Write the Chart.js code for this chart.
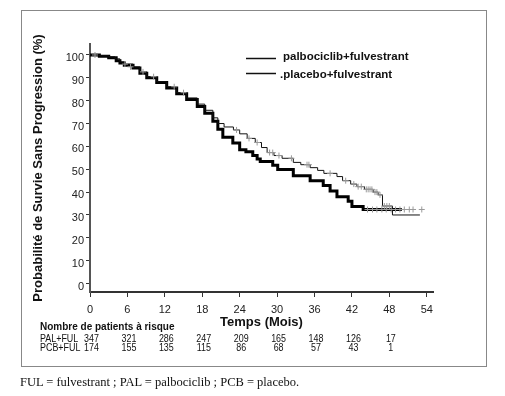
<!DOCTYPE html>
<html><head><meta charset="utf-8">
<script src="https://cdn.jsdelivr.net/npm/chart.js@4.4.1/dist/chart.umd.min.js"></script>
<style>
html,body{margin:0;padding:0;background:#fff;}
#wrap{position:relative;width:505px;height:396px;overflow:hidden;background:#fff;}
#frame{position:absolute;left:21px;top:10px;width:464px;height:355px;border:1px solid #888;}
canvas{position:absolute;left:0;top:0;}
#cap{position:absolute;left:20px;top:375px;font:12.5px "Liberation Serif","Times New Roman",serif;color:#111;white-space:nowrap;}
</style></head><body>
<div id="wrap"><div id="frame"></div><canvas id="c" width="505" height="396"></canvas><div id="cap">FUL = fulvestrant ; PAL = palbociclib ; PCB = placebo.</div></div>
<script>
const xTicks = [0, 6, 12, 18, 24, 30, 36, 42, 48, 54];
const yTicks = [0, 10, 20, 30, 40, 50, 60, 70, 80, 90, 100];
const seriesLabels = ['palbociclib+fulvestrant', '.placebo+fulvestrant'];

// Kaplan-Meier steps, PAL+FUL (thin line)
const palTimes = [0, 1.5, 3.0, 4.0, 4.8, 5.5, 6.9, 8.0, 9.1, 10.7, 12.3, 13.9, 15.5, 17.2, 18.4, 19.7, 20.5, 21.5, 23.0, 24.0, 25.2, 26.5, 27.5, 28.4, 29.5, 30.8, 32.6, 33.8, 35.3, 36.5, 37.5, 39.6, 40.5, 41.8, 42.8, 44.0, 45.4, 46.2, 46.9, 48.5, 52.9];
const palSurv  = [100, 99.6, 99.2, 98.3, 97, 96, 94.8, 92.6, 90.5, 88.3, 86.1, 83.5, 81.2, 78.5, 75.8, 72.5, 70, 68.5, 67.2, 65.5, 63.5, 61.7, 59.5, 57.3, 56, 54.8, 53, 52, 50.7, 49.5, 48.2, 46.8, 45, 43.5, 42.4, 41.2, 40, 38.8, 33.9, 30.0, 30.0];

// Kaplan-Meier steps, PCB+FUL (thick line)
const pcbTimes = [0, 1.5, 3.0, 4.2, 4.8, 5.5, 6.9, 8.0, 9.1, 10.7, 12.3, 13.9, 15.5, 17.2, 18.4, 19.7, 20.5, 21.3, 22.9, 24.0, 25.0, 26.1, 26.8, 27.3, 29.3, 30.1, 32.6, 35.3, 37.4, 38.5, 39.6, 41.4, 42.0, 43.8, 50.0];
const pcbSurv  = [100, 99.4, 98.8, 97.5, 96.5, 95.5, 94.3, 92, 90, 88, 85.5, 83, 80.5, 77.5, 74.5, 71, 67.5, 64, 61.5, 58.5, 57.7, 56, 54.5, 53.4, 51.8, 49.9, 47.2, 45, 42.9, 40.5, 38, 36, 33.7, 32.4, 32.4];

// censoring marks
const palCensorTimes = [0.8, 5.6, 6.5, 8.5, 10.2, 13.5, 15.0, 23.5, 25.5, 26.8, 28.8, 29.3, 30.3, 32.3, 34.8, 35.1, 38.5, 41.0, 42.3, 43.0, 43.5, 44.3, 44.6, 44.9, 45.2, 45.7, 46.0, 46.5, 47.2, 47.6, 48.0];
const palCensorSurv  = [100, 96, 94.8, 92.6, 90.5, 86.1, 83.5, 67.2, 63.5, 61.7, 57.3, 57.3, 56, 54.8, 52, 52, 48.2, 45, 43.5, 42.4, 42.4, 41.2, 41.2, 41.2, 41.2, 40, 40, 38.8, 33.9, 33.9, 33.9];
const pcbCensorTimes = [44.5, 45.3, 46.0, 46.8, 47.5, 48.3, 49.0, 49.7, 50.4, 51.2, 51.8, 53.2];
const pcbCensorSurv  = [32.4, 32.4, 32.4, 32.4, 32.4, 32.4, 32.4, 32.4, 32.4, 32.4, 32.4, 32.4];

const riskTitle = 'Nombre de patients à risque';
const riskRowLabels = ['PAL+FUL', 'PCB+FUL'];
const riskTimes = [0, 6, 12, 18, 24, 30, 36, 42, 48];
const palAtRisk = [347, 321, 286, 247, 209, 165, 148, 126, 17];
const pcbAtRisk = [174, 155, 135, 115, 86, 68, 57, 43, 1];

const SANS = '"Liberation Sans", Arial, sans-serif';
const pts = (t, s) => t.map((v, i) => ({x: v, y: s[i]}));

const legendPlugin = {
  id: 'kmLegend',
  afterDraw(chart) {
    const ctx = chart.ctx;
    ctx.save();
    ctx.strokeStyle = '#111';
    ctx.lineWidth = 1.5;
    ctx.fillStyle = '#111';
    ctx.font = 'bold 11.5px ' + SANS;
    ctx.textBaseline = 'alphabetic';
    const rows = [{ly: 58.5, ty: 59.5, tx: 283}, {ly: 73.5, ty: 77.5, tx: 280}];
    rows.forEach((r, i) => {
      ctx.beginPath(); ctx.moveTo(246, r.ly); ctx.lineTo(276, r.ly); ctx.stroke();
      ctx.fillText(seriesLabels[i], r.tx, r.ty);
    });
    ctx.restore();
  }
};

const riskPlugin = {
  id: 'riskTable',
  afterDraw(chart) {
    const ctx = chart.ctx, xs = chart.scales.x;
    const SX = 0.85;
    ctx.save();
    ctx.fillStyle = '#111';
    ctx.textBaseline = 'middle';
    ctx.textAlign = 'left';
    ctx.font = 'bold 10px ' + SANS;
    ctx.fillText(riskTitle, 40, 327);
    ctx.scale(SX, 1);
    ctx.font = '10.5px ' + SANS;
    ctx.fillText(riskRowLabels[0], 40 / SX, 339);
    ctx.fillText(riskRowLabels[1], 40 / SX, 348);
    ctx.textAlign = 'center';
    riskTimes.forEach((t, i) => {
      const x = xs.getPixelForValue(t) + 1.5;
      ctx.fillText(String(palAtRisk[i]), x / SX, 339);
      ctx.fillText(String(pcbAtRisk[i]), x / SX, 348);
    });
    ctx.restore();
  }
};

new Chart(document.getElementById('c'), {
  type: 'line',
  data: {
    datasets: [
      {label: seriesLabels[0], data: pts(palTimes, palSurv), stepped: 'before', borderColor: '#111', borderWidth: 1, pointRadius: 0, fill: false, order: 1},
      {label: seriesLabels[1], data: pts(pcbTimes, pcbSurv), stepped: 'before', borderColor: '#000', borderWidth: 3, pointRadius: 0, fill: false, order: 2},
      {type: 'scatter', label: 'censor PAL', data: pts(palCensorTimes, palCensorSurv), pointStyle: 'cross', pointRadius: 3, borderColor: '#9a9a9a', borderWidth: 1, showLine: false, order: 0},
      {type: 'scatter', label: 'censor PCB', data: pts(pcbCensorTimes, pcbCensorSurv), pointStyle: 'cross', pointRadius: 3, borderColor: '#9a9a9a', borderWidth: 1, showLine: false, order: 0}
    ]
  },
  options: {
    responsive: false,
    animation: false,
    devicePixelRatio: 1,
    layout: {padding: {left: 29, right: 72, top: 44, bottom: 64}},
    plugins: {legend: {display: false}, tooltip: {enabled: false}},
    scales: {
      x: {
        type: 'linear', min: 0, max: 55,
        afterBuildTicks: s => { s.ticks = xTicks.map(v => ({value: v})); },
        afterFit: s => { s.height = 40; },
        grid: {drawOnChartArea: false, drawTicks: true, tickLength: 5, tickColor: '#333', tickWidth: 1},
        border: {display: true, color: '#333', width: 2},
        ticks: {padding: 6, color: '#222', autoSkip: false, maxRotation: 0, font: {family: SANS, size: 11}},
        title: {display: true, text: 'Temps (Mois)', color: '#111', font: {family: SANS, size: 13, weight: 'bold'}, padding: {top: 0, bottom: 2}}
      },
      y: {
        type: 'linear', min: -3.7, max: 104.8,
        afterBuildTicks: s => { s.ticks = yTicks.map(v => ({value: v})); },
        afterFit: s => { s.width = 61; },
        grid: {drawOnChartArea: false, drawTicks: true, tickLength: 4, tickColor: '#333', tickWidth: 1},
        border: {display: true, color: '#555', width: 2},
        ticks: {padding: 2, labelOffset: 3, color: '#222', font: {family: SANS, size: 11}},
        title: {display: true, text: 'Probabilité de Survie Sans Progression (%)', color: '#111', font: {family: SANS, size: 13, weight: 'bold'}, padding: {top: 2, bottom: 0}}
      }
    }
  },
  plugins: [legendPlugin, riskPlugin]
});
</script>
</body></html>
